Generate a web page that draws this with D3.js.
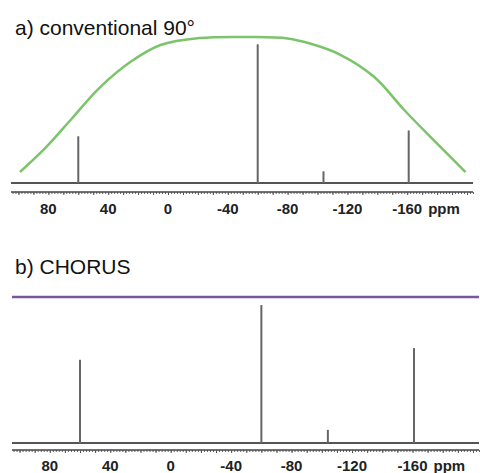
<!DOCTYPE html>
<html>
<head>
<meta charset="utf-8">
<script src="https://cdn.jsdelivr.net/npm/d3@7"></script>
<style>
  body { margin: 0; background: #fff; }
  svg { display: block; font-family: "Liberation Sans", Arial, sans-serif; }
</style>
</head>
<body>
<div id="chart"></div>
<script>

// Data

var
	tickValues = [80, 40, 0, -40, -80, -120, -160],
	peakPpm = [60, -60, -104, -161],
	peaksConventional = [32, 95, 8, 36],
	peaksChorus = [57, 94.5, 9, 65],

	// excitation profile, [ppm, relative intensity]
	profilePpm = [99, 82, 64, 46, 25, 5, -21, -55, -80, -95, -115, -138, -158, -179, -199],
	profileConventional = [7.5, 24, 44.5, 65, 83, 94.5, 99.3, 100, 99, 95.5, 88, 72.6, 50, 28, 7.5],
	profileChorusPpm = [105, -204],
	profileChorus = [100, 100];

var svg = d3.select('#chart').append('svg')
	.attr('width', 480)
	.attr('height', 473);

function drawPanel(opt) {

	var g = svg.append('g'),
		x = d3.scaleLinear().domain([105, -204]).range(opt.xRange),
		y = d3.scaleLinear().domain([0, 100]).range([opt.base, opt.top]);

	g.append('text')
		.attr('x', 15)
		.attr('y', opt.titleY)
		.style('font-size', '21px')
		.style('fill', '#111')
		.text(opt.title);

	// profile curve
	var line = d3.line()
		.x(function(d) {return x(d[0]);})
		.y(function(d) {return y(d[1]);})
		.curve(d3.curveCatmullRom.alpha(0.5));

	g.append('path')
		.datum(d3.zip(opt.profilePpm, opt.profile))
		.attr('d', line)
		.style('fill', 'none')
		.style('stroke', opt.color)
		.style('stroke-width', opt.lineWidth);

	// spectrum baseline
	g.append('line')
		.attr('x1', opt.xRange[0])
		.attr('x2', opt.xRange[1])
		.attr('y1', y(0))
		.attr('y2', y(0))
		.style('stroke', '#555')
		.style('stroke-width', 2);

	// peaks
	g.selectAll('line.peak')
		.data(d3.zip(peakPpm, opt.peaks))
		.enter()
		.append('line')
		.attr('class', 'peak')
		.attr('x1', function(d) {return x(d[0]);})
		.attr('x2', function(d) {return x(d[0]);})
		.attr('y1', y(0))
		.attr('y2', function(d) {return y(d[1]);})
		.style('stroke', '#666')
		.style('stroke-width', 2);

	// ppm axis: minor ticks, then labelled ticks
	var axisY = opt.axisY;

	g.append('g')
		.attr('transform', 'translate(0,' + axisY + ')')
		.call(d3.axisBottom(x).tickValues(d3.range(104, -205, -2)).tickSize(2).tickFormat(''))
		.call(function(s) {
			s.select('.domain').remove();
			s.selectAll('line').style('stroke', '#666');
		});

	var axis = g.append('g')
		.attr('transform', 'translate(0,' + axisY + ')')
		.call(d3.axisBottom(x).tickValues(d3.range(100, -205, -10)).tickSize(3).tickFormat(''));

	axis.select('.domain')
		.attr('d', 'M' + opt.xRange[0] + ',0H' + opt.xRange[1])
		.style('stroke', '#444')
		.style('stroke-width', 1.5);
	axis.selectAll('line').style('stroke', '#555');

	g.selectAll('text.tick-label')
		.data(tickValues)
		.enter()
		.append('text')
		.attr('class', 'tick-label')
		.attr('x', function(d) {return x(d);})
		.attr('y', opt.labelY)
		.attr('text-anchor', 'middle')
		.style('font-size', '15px')
		.style('font-weight', 'bold')
		.style('fill', '#222')
		.text(function(d) {return d;});

	g.append('text')
		.attr('x', x(-160) + 21)
		.attr('y', opt.labelY)
		.style('font-size', '15px')
		.style('font-weight', 'bold')
		.style('fill', '#222')
		.text('ppm');
}

drawPanel({
	title: 'a) conventional 90°',
	titleY: 35,
	xRange: [11, 473],
	base: 183,
	top: 37,
	axisY: 192,
	labelY: 214,
	peaks: peaksConventional,
	profilePpm: profilePpm,
	profile: profileConventional,
	color: '#7cc46b',
	lineWidth: 2.5
});

drawPanel({
	title: 'b) CHORUS',
	titleY: 274,
	xRange: [12, 479],
	base: 443,
	top: 297,
	axisY: 450,
	labelY: 471,
	peaks: peaksChorus,
	profilePpm: profileChorusPpm,
	profile: profileChorus,
	color: '#7a559e',
	lineWidth: 2.5
});

</script>
</body>
</html>
